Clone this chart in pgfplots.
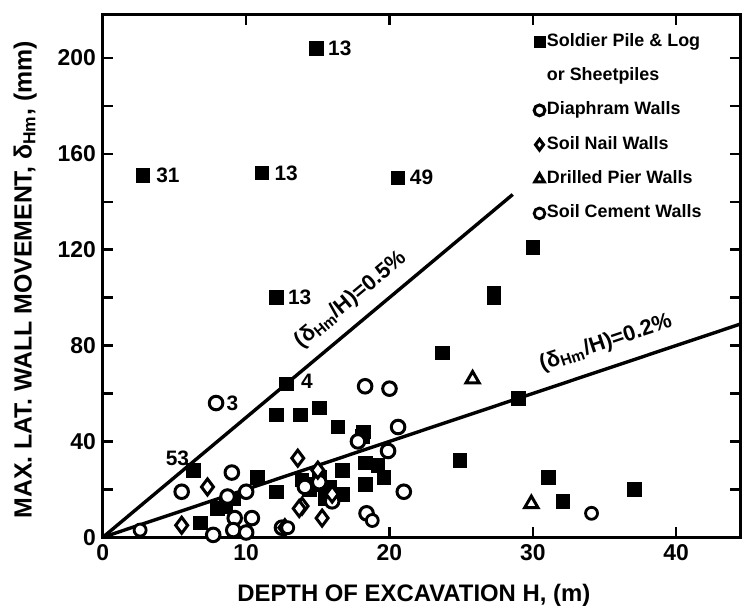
\documentclass[border=0pt]{standalone}
\usepackage{fontspec}
\setmainfont{Liberation Sans}
\usepackage{pgfplots}
\pgfplotsset{compat=1.18}
\begin{document}
\begin{tikzpicture}
\begin{axis}[
  scale only axis, width=319bp, height=261.5bp,
  xmin=0, xmax=44.46, ymin=0, ymax=217.9,
  axis line style={line width=1.5bp},
  every tick/.style={line width=1.2bp, black},
  major tick length=5bp, minor tick length=5bp,
  tick align=inside, tick pos=both,
  xtick={0,10,20,30,40},
  ytick={0,40,...,200},
  minor ytick={20,60,...,180},
  ticklabel style={font=\bfseries\fontsize{11.5}{12}\selectfont},
  /pgf/number format/assume math mode=true,
  xlabel={DEPTH OF EXCAVATION H, (m)},
  ylabel={MAX. LAT. WALL MOVEMENT, δ\textsubscript{Hm}, (mm)},
  xlabel style={at={(axis description cs:0.488,-0.111)}, anchor=center, font=\bfseries\fontsize{12}{14}\selectfont},
  ylabel style={at={(axis description cs:-0.122,0.493)}, anchor=center, font=\bfseries\fontsize{12.5}{14}\selectfont},
  legend style={draw=none, fill=none, at={(0.672,0.969)}, anchor=north west, inner sep=0pt, outer sep=0pt,
    font=\bfseries\fontsize{9}{10}\selectfont, cells={anchor=west}, row sep=6.7bp,
    nodes={inner sep=1bp, text height=6.5bp, text depth=2bp}},
  legend image code/.code={\draw[mark repeat=2,mark phase=2,#1] plot coordinates {(0cm,0cm) (0.15cm,0cm) (0.3cm,0cm)};},
  legend image post style={mark size=2.7bp},
  clip=false,
]
% trend lines
\addplot[forget plot, black, line width=1.7bp] coordinates {(0,0) (28.6,143)};
\addplot[forget plot, black, line width=1.7bp] coordinates {(0,0) (44.46,88.9)};

% Soldier pile & log or sheetpiles
\addplot[only marks, mark=square*, mark size=3.4bp, black, mark options={fill=black, rounded corners=1bp}] coordinates {
(2.8,151) (11.1,152) (20.6,150) (14.9,204) (12.1,100) (12.8,64)
(12.1,51) (13.8,51) (15.1,54) (16.4,46) (18.2,44) (18.1,42)
(30.0,121) (27.3,102) (27.3,100) (23.7,77) (29.0,58) (24.9,32)
(31.1,25) (32.1,15) (37.1,20) (6.3,28) (6.8,6) (8.0,12) (8.6,13)
(9.1,16) (10.8,25) (12.1,19) (13.9,24) (14.8,22) (15.1,25) (15.8,21)
(16.7,28) (16.7,18) (18.3,31) (19.2,30) (19.6,25) (18.3,22) (14.4,20) (15.5,16)
};
\addlegendentry{Soldier Pile \& Log}
\addlegendimage{empty legend}
\addlegendentry{or Sheetpiles}

% Diaphragm walls
\addplot[only marks, mark=*, mark size=3.4bp, black, mark options={fill=white, line width=1.5bp}] coordinates {
(7.9,56) (5.5,19) (9.0,27) (7.7,1) (8.7,17) (10.0,19) (9.2,8)
(10.4,8) (9.1,3) (10.0,2) (12.5,4) (18.3,63) (20.0,62)
(20.6,46) (19.9,36) (17.8,40) (21.0,19) (18.4,10) (14.1,21) (16.0,15) (15.1,23)
};
\addlegendentry{Diaphram Walls}

% Soil nail walls
\addplot[only marks, mark=diamond*, mark size=4bp, black, mark options={fill=white, line width=1.5bp}] coordinates {
(5.5,5) (7.3,21) (13.6,33) (13.9,13) (15.3,8) (13.7,12) (16.0,18) (12.7,4) (15.0,28)
};
\addlegendentry{Soil Nail Walls}

% Drilled pier walls
\addplot[only marks, mark=triangle*, mark size=3.8bp, black, mark options={fill=white, line width=1.5bp}] coordinates {
(25.8,66) (29.9,14)
};
\addlegendentry{Drilled Pier Walls}

% Soil cement walls
\addplot[only marks, mark=*, mark size=3bp, black, mark options={fill=white, line width=1.4bp}] coordinates {
(2.6,3) (12.9,4) (18.8,7) (34.1,10)
};
\addlegendentry{Soil Cement Walls}

% point labels
\begin{scope}[every node/.style={font=\bfseries\fontsize{10.5}{12}\selectfont, inner sep=0pt}]
\node[anchor=west] at (axis cs:15.7,204) {13};
\node[anchor=west] at (axis cs:3.7,151) {31};
\node[anchor=west] at (axis cs:11.95,152) {13};
\node[anchor=west] at (axis cs:21.4,150) {49};
\node[anchor=west] at (axis cs:12.9,100) {13};
\node[anchor=west] at (axis cs:13.8,65) {4};
\node[anchor=west] at (axis cs:8.6,56) {3};
\node[anchor=center] at (axis cs:5.2,33) {53};
\end{scope}
\node[rotate=39.9, font=\bfseries\fontsize{11}{12}\selectfont, inner sep=0pt] at (axis cs:17.3,99) {(δ\textsubscript{Hm}/H)=0.5\%};
\node[rotate=18.5, font=\bfseries\fontsize{11}{12}\selectfont, inner sep=0pt] at (axis cs:35.1,81) {(δ\textsubscript{Hm}/H)=0.2\%};
\end{axis}
\pgfresetboundingbox
\path ([shift={(-51.5bp,-37.5bp)}]current axis.south west) rectangle ([shift={(1bp,7.5bp)}]current axis.north east);
\end{tikzpicture}
\end{document}
